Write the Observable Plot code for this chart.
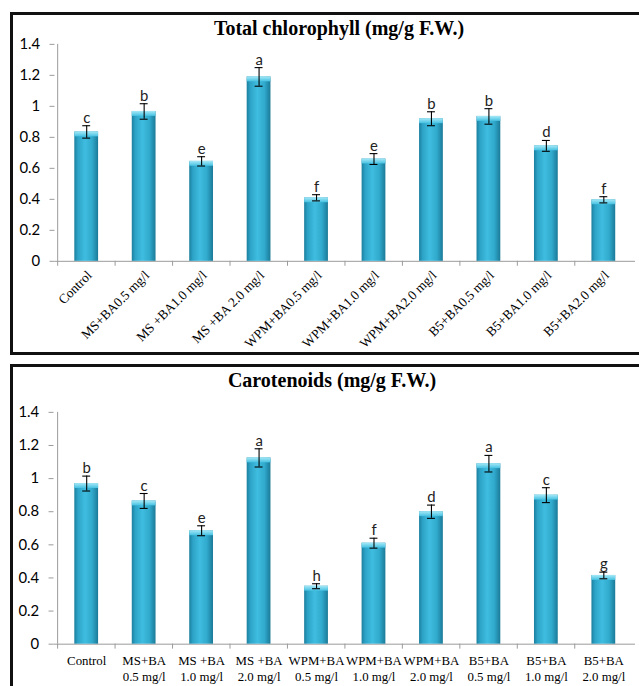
<!DOCTYPE html>
<html>
<head>
<meta charset="utf-8">
<script src="https://cdn.jsdelivr.net/npm/d3@7"></script>
<script src="https://cdn.jsdelivr.net/npm/@observablehq/plot@0.6"></script>
<style>
  html, body { margin: 0; padding: 0; background: #fff; }
  #root { position: relative; width: 639px; height: 686px; overflow: hidden; background: #fff; }
  .panel { position: absolute; border: 3px solid #111; box-sizing: border-box; }
  .title { position: absolute; font-family: "Liberation Serif", "Times New Roman", serif; font-weight: bold;
           font-size: 20px; line-height: 20px; text-align: center; color: #000; white-space: nowrap; }
  .chart { position: absolute; left: 0; }
</style>
</head>
<body>
<svg width="0" height="0" style="position:absolute">
  <defs>
    <linearGradient id="barGrad" x1="0" x2="1" y1="0" y2="0">
      <stop offset="0%" stop-color="#1c7f9e"/>
      <stop offset="15%" stop-color="#2ca3c7"/>
      <stop offset="45%" stop-color="#3fbde0"/>
      <stop offset="75%" stop-color="#30a9cc"/>
      <stop offset="100%" stop-color="#1b7a98"/>
    </linearGradient>
    <linearGradient id="capGrad" x1="0" x2="0" y1="0" y2="1">
      <stop offset="0%" stop-color="#a6e9f7"/>
      <stop offset="100%" stop-color="#46c1e2"/>
    </linearGradient>
  </defs>
</svg>
<div id="root">
  <div class="panel" style="left:10px; top:12px; width:660px; height:343px;"></div>
  <div class="panel" style="left:10px; top:364px; width:660px; height:360px;"></div>
  <div class="title" style="left:0; width:678px; top:18px;">Total chlorophyll (mg/g F.W.)</div>
  <div class="title" style="left:0; width:664px; top:370px;">Carotenoids (mg/g F.W.)</div>
  <div class="chart" id="chart1" style="top:30px;"></div>
  <div class="chart" id="chart2" style="top:398px;"></div>
</div>
<script>
// ---- data ----
const chlLabels = ["Control", "MS+BA0.5 mg/l", "MS +BA1.0 mg/l", "MS +BA 2.0 mg/l", "WPM+BA0.5 mg/l",
                   "WPM+BA1.0 mg/l", "WPM+BA2.0 mg/l", "B5+BA0.5 mg/l", "B5+BA1.0 mg/l", "B5+BA2.0 mg/l"];
const chlValues = [0.835, 0.967, 0.645, 1.19, 0.41, 0.66, 0.92, 0.935, 0.745, 0.397];
const chlErrors = [0.04, 0.05, 0.03, 0.06, 0.02, 0.035, 0.045, 0.05, 0.035, 0.02];
const chlLetters = ["c", "b", "e", "a", "f", "e", "b", "b", "d", "f"];

const carLabels = ["Control", "MS+BA\n0.5 mg/l", "MS +BA\n1.0 mg/l", "MS +BA\n2.0 mg/l", "WPM+BA\n0.5 mg/l",
                   "WPM+BA\n1.0 mg/l", "WPM+BA\n2.0 mg/l", "B5+BA\n0.5 mg/l", "B5+BA\n1.0 mg/l", "B5+BA\n2.0 mg/l"];
const carValues = [0.97, 0.865, 0.685, 1.125, 0.35, 0.61, 0.80, 1.09, 0.90, 0.415];
const carErrors = [0.045, 0.045, 0.03, 0.055, 0.015, 0.03, 0.04, 0.05, 0.045, 0.02];
const carLetters = ["b", "c", "e", "a", "h", "f", "d", "a", "c", "g"];

const yTicks = [0, 0.2, 0.4, 0.6, 0.8, 1, 1.2, 1.4];
const yTickLabels = ["0", "0.2", "0.4", "0.6", "0.8", "1", "1.2", "1.4"];

function chart({labels, values, errors, letters, height, marginBottom, marginLeft, xAxis}) {
  const data = labels.map((label, i) => ({label, value: values[i], err: errors[i], letter: letters[i]}));
  const width = 645, marginRight = 4;
  const step = (width - marginLeft - marginRight) / labels.length;
  const axisGray = "#9a9a9a";
  return Plot.plot({
    width, height, marginLeft, marginRight, marginTop: 14, marginBottom,
    x: {domain: labels, paddingInner: 0.59, paddingOuter: 0.295},
    y: {domain: [0, 1.4]},
    style: {fontFamily: "Lato, sans-serif", fontSize: "15px", color: "#000", background: "transparent", overflow: "visible"},
    marks: [
      Plot.ruleX([labels[0]], {x: d => d, dx: -step / 2, y1: 0, y2: 1.4, stroke: axisGray}),
      Plot.ruleX(labels, {x: d => d, dx: -step / 2, y1: 0, y2: 0, insetBottom: -5, stroke: axisGray}),
      Plot.ruleY([0], {stroke: axisGray}),
      Plot.axisY({ticks: yTicks, tickFormat: d => yTickLabels[yTicks.indexOf(d)], tickSize: 5, tickPadding: 10,
                  stroke: axisGray, fill: "#000", label: null, fontSize: 15, fontFamily: "Lato, sans-serif"}),
      Plot.barY(data, {x: "label", y: "value", fill: "url(#barGrad)"}),
      Plot.barY(data, {x: "label", y1: "value", y2: "value", insetBottom: -5, fill: "url(#capGrad)"}),
      Plot.ruleX(data, {x: "label", y1: d => d.value - d.err, y2: d => d.value + d.err, stroke: "#000", strokeWidth: 1.1}),
      Plot.tickY(data, {x: "label", y: d => d.value - d.err, insetLeft: 8, insetRight: 8, stroke: "#000", strokeWidth: 1.1}),
      Plot.tickY(data, {x: "label", y: d => d.value + d.err, insetLeft: 8, insetRight: 8, stroke: "#000", strokeWidth: 1.1}),
      Plot.text(data, {x: "label", y: d => d.value + d.err, text: "letter", lineAnchor: "bottom", dy: -3,
                       fontSize: 15, fontFamily: "Lato, sans-serif", fill: "#222"}),
      Plot.axisX({label: null, tickSize: 0, fill: "#000", fontFamily: "Liberation Serif, serif", ...xAxis})
    ]
  });
}

document.getElementById("chart1").append(chart({
  labels: chlLabels, values: chlValues, errors: chlErrors, letters: chlLetters,
  height: 320, marginBottom: 87, marginLeft: 55,
  xAxis: {tickRotate: -45, tickPadding: 12, dx: 3, fontSize: 13.5}
}));

document.getElementById("chart2").append(chart({
  labels: carLabels, values: carValues, errors: carErrors, letters: carLetters,
  height: 288, marginBottom: 40, marginLeft: 54,
  xAxis: {tickPadding: 10, fontSize: 13, lineHeight: 1.2}
}));
</script>
</body>
</html>
